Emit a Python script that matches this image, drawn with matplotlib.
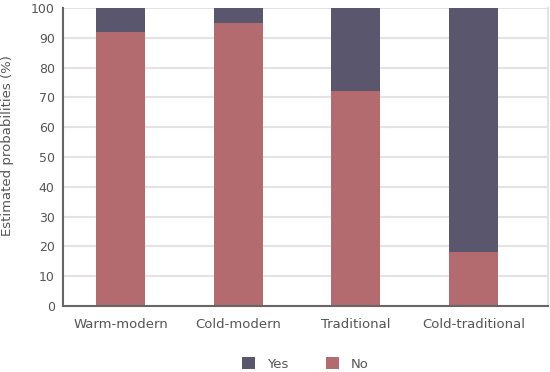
import matplotlib.pyplot as plt
import numpy as np

categories = ['Warm-modern', 'Cold-modern', 'Traditional', 'Cold-traditional']
no_vals = [92, 95, 72, 18]
yes_vals = [8, 5, 28, 82]

COL_NO = '#b36b6f'
COL_YES = '#59566e'
TXT = '#555555'

fig = plt.figure(figsize=(5.5, 3.72), dpi=100)
ax = fig.add_axes([63 / 550, 1 - 306 / 372, 485 / 550, 298 / 372])

x = np.arange(len(categories))
w = 0.416
ax.bar(x, no_vals, w, color=COL_NO, label='No', zorder=3)
ax.bar(x, yes_vals, w, bottom=no_vals, color=COL_YES, label='Yes', zorder=3)

ax.set_xlim(-0.489, 3.632)
ax.set_ylim(0, 100)
ax.set_yticks(range(0, 101, 10))
ax.set_xticks(x)
ax.set_xticklabels(categories)
ax.grid(axis='y', color='#e3e3e3', linewidth=1.5, zorder=0)
ax.tick_params(length=0, labelsize=9, colors=TXT, pad=6)
ax.tick_params(axis='x', pad=9, labelsize=9.5)
ax.spines['top'].set_visible(False)
ax.spines['right'].set_color('#e3e3e3')
ax.spines['right'].set_linewidth(1.5)
for s in ['left', 'bottom']:
    ax.spines[s].set_color('#666666')
    ax.spines[s].set_linewidth(1.5)
    ax.spines[s].set_zorder(4)

fig.text(8 / 550, 1 - 146 / 372, 'Estimated probabilities (%)', rotation=90,
         ha='center', va='center', fontsize=9.5, color=TXT)

h, l = ax.get_legend_handles_labels()
fig.legend(h[::-1], l[::-1], loc='center', bbox_to_anchor=(305 / 550, 1 - 364 / 372),
           ncol=2, frameon=False, fontsize=9.5, labelcolor=TXT,
           handlelength=1.0, handleheight=1.0, columnspacing=2.85, handletextpad=0.9)

fig.savefig('out.png', dpi=100)
